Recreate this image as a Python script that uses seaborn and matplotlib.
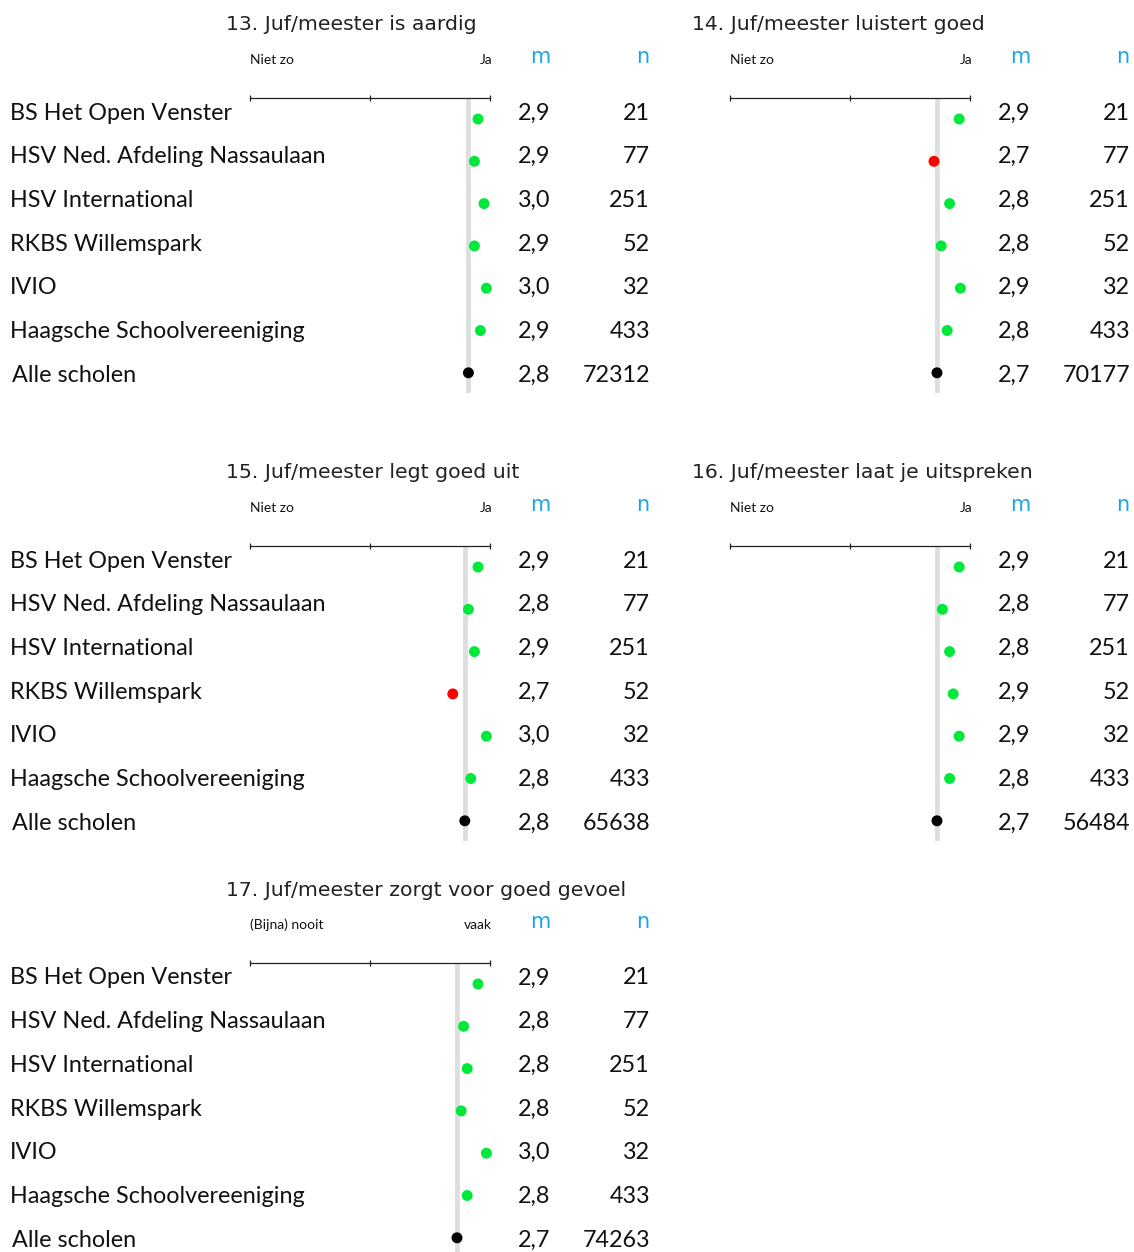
import matplotlib
matplotlib.use("Agg")
import matplotlib.pyplot as plt
import seaborn as sns
import pandas as pd

# ---------------- data ----------------
schools = ["BS Het Open Venster", "HSV Ned. Afdeling Nassaulaan", "HSV International",
           "RKBS Willemspark", "IVIO", "Haagsche Schoolvereeniging", "Alle scholen"]

titles = ["13. Juf/meester is aardig", "14. Juf/meester luistert goed",
          "15. Juf/meester legt goed uit", "16. Juf/meester laat je uitspreken",
          "17. Juf/meester zorgt voor goed gevoel"]

scale_low = ["Niet zo", "Niet zo", "Niet zo", "Niet zo", "(Bijna) nooit"]
scale_high = ["Ja", "Ja", "Ja", "Ja", "vaak"]

means_13 = [2.90, 2.87, 2.95, 2.87, 2.97, 2.92, 2.82]
means_14 = [2.91, 2.70, 2.83, 2.76, 2.92, 2.81, 2.725]
means_15 = [2.90, 2.82, 2.87, 2.69, 2.97, 2.84, 2.79]
means_16 = [2.91, 2.77, 2.83, 2.86, 2.91, 2.83, 2.725]
means_17 = [2.90, 2.78, 2.81, 2.76, 2.97, 2.81, 2.725]

mlab_13 = ["2,9", "2,9", "3,0", "2,9", "3,0", "2,9", "2,8"]
mlab_14 = ["2,9", "2,7", "2,8", "2,8", "2,9", "2,8", "2,7"]
mlab_15 = ["2,9", "2,8", "2,9", "2,7", "3,0", "2,8", "2,8"]
mlab_16 = ["2,9", "2,8", "2,8", "2,9", "2,9", "2,8", "2,7"]
mlab_17 = ["2,9", "2,8", "2,8", "2,8", "3,0", "2,8", "2,7"]

n_13 = [21, 77, 251, 52, 32, 433, 72312]
n_14 = [21, 77, 251, 52, 32, 433, 70177]
n_15 = [21, 77, 251, 52, 32, 433, 65638]
n_16 = [21, 77, 251, 52, 32, 433, 56484]
n_17 = [21, 77, 251, 52, 32, 433, 74263]

status_13 = ["ok", "ok", "ok", "ok", "ok", "ok", "all"]
status_14 = ["ok", "low", "ok", "ok", "ok", "ok", "all"]
status_15 = ["ok", "ok", "ok", "low", "ok", "ok", "all"]
status_16 = ["ok", "ok", "ok", "ok", "ok", "ok", "all"]
status_17 = ["ok", "ok", "ok", "ok", "ok", "ok", "all"]

all_means = [means_13, means_14, means_15, means_16, means_17]
all_mlab = [mlab_13, mlab_14, mlab_15, mlab_16, mlab_17]
all_n = [n_13, n_14, n_15, n_16, n_17]
all_status = [status_13, status_14, status_15, status_16, status_17]

# ---------------- layout ----------------
W, H = 1134, 1252
sns.set_theme(style="white")
plt.rcParams["font.family"] = ["DejaVu Sans"]

fig = plt.figure(figsize=(W / 100, H / 100), dpi=100)
fig.patch.set_facecolor("white")

palette = {"ok": "#00e83a", "low": "#ff0000", "all": "#000000"}
blue = "#1aa3e8"
label_font = ["Lato", "DejaVu Sans"]
title_font = ["DejaVu Sans"]

# panel offsets (dx, dy) in pixels relative to panel 13
offsets = [(0, 0), (480, 0), (0, 448), (480, 448), (0, 865)]
title_dx = [0, 466, 0, 466, 0]


def ftext(x, y, s, **kw):
    fig.text(x / W, 1 - y / H, s, **kw)


row_step_dot = 42.3
row_step_txt = 43.7

for k in range(5):
    dx, dy = offsets[k]
    # title and headers
    ftext(226 + title_dx[k], 25 + dy, titles[k], fontsize=14.7, family=title_font,
          ha="left", va="center", color="#222222", fontweight="normal")
    ftext(250 + dx, 60 + dy, scale_low[k], fontsize=10, family=label_font,
          ha="left", va="center", color="#111111")
    ftext(492 + dx, 60 + dy, scale_high[k], fontsize=10, family=label_font,
          ha="right", va="center", color="#111111")
    ftext(540 + dx, 57 + dy, "m", fontsize=15, family=title_font,
          ha="center", va="center", color=blue)
    ftext(643 + dx, 57 + dy, "n", fontsize=15, family=title_font,
          ha="center", va="center", color=blue)

    # axes for dots
    ax_top = 98 + dy
    ax_bot = min(393 + dy, H)
    left, right = 250 + dx, 490 + dx
    ax = fig.add_axes([left / W, 1 - ax_bot / H, (right - left) / W, (ax_bot - ax_top) / H])
    first_dot = 119 + dy
    y_top = -(first_dot - ax_top) / row_step_dot
    y_bot = (ax_bot - first_dot) / row_step_dot
    df = pd.DataFrame({"mean": all_means[k], "row": list(range(7)), "status": all_status[k]})
    ax.axvline(all_means[k][6], color="#dedede", lw=3.5, zorder=0)
    sns.scatterplot(data=df, x="mean", y="row", hue="status", palette=palette,
                    s=62, linewidth=0, legend=False, ax=ax, zorder=3, clip_on=False)
    ax.set_xlim(1, 3)
    ax.set_ylim(y_bot, y_top)
    ax.set_facecolor("none")
    for side in ["left", "right", "bottom"]:
        ax.spines[side].set_visible(False)
    ax.spines["top"].set_visible(True)
    ax.spines["top"].set_color("#222222")
    ax.spines["top"].set_linewidth(0.9)
    ax.xaxis.tick_top()
    ax.set_xticks([1, 2, 3])
    ax.set_xticklabels([])
    ax.tick_params(axis="x", direction="inout", length=5, width=0.9, color="#222222", top=True, bottom=False)
    ax.set_yticks([])
    ax.set_xlabel("")
    ax.set_ylabel("")

    # row texts
    for i in range(7):
        ty = 113 + dy + i * row_step_txt
        if dx == 0:
            ftext(10 + (2 if i == 6 else 0), ty, schools[i], fontsize=16.8,
                  family=label_font, ha="left", va="center", color="#111111")
        ftext(550 + dx, ty, all_mlab[k][i], fontsize=16.8, family=label_font,
              ha="right", va="center", color="#111111")
        ftext(650 + dx, ty, str(all_n[k][i]), fontsize=16.8, family=label_font,
              ha="right", va="center", color="#111111")

fig.savefig("out.png", dpi=100, facecolor="white")
